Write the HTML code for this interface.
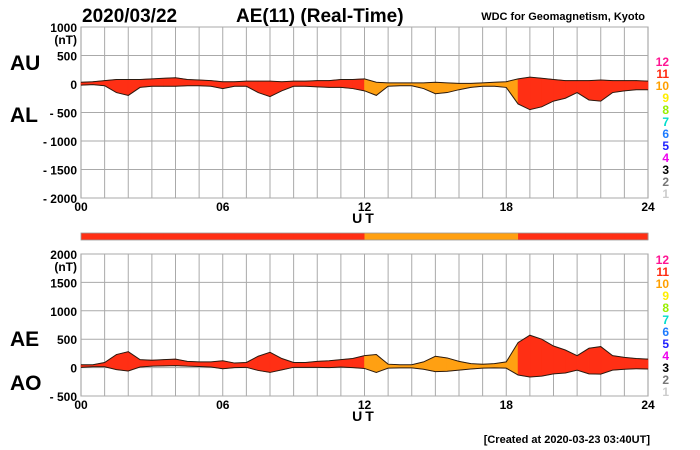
<!DOCTYPE html>
<html><head><meta charset="utf-8"><style>
body{margin:0;background:#fff;}
svg{display:block;font-family:"Liberation Sans",Arial,sans-serif;}
</style></head><body>
<svg id="chart" width="700" height="450" viewBox="0 0 700 450">
<text x="82" y="22" font-size="19" font-weight="bold">2020/03/22</text>
<text x="236" y="22" font-size="19" font-weight="bold">AE(11) (Real-Time)</text>
<text x="645" y="20" font-size="11" font-weight="bold" text-anchor="end">WDC for Geomagnetism, Kyoto</text>
<text x="650" y="443" font-size="11" font-weight="bold" text-anchor="end">[Created at 2020-03-23 03:40UT]</text>
<g id="topPanel"></g><g id="botPanel"></g>
</svg>
<script>
const hours=[0,0.5,1,1.5,2,2.5,3,3.5,4,4.5,5,5.5,6,6.5,7,7.5,8,8.5,9,9.5,10,10.5,11,11.5,12,12.5,13,13.5,14,14.5,15,15.5,16,16.5,17,17.5,18,18.5,19,19.5,20,20.5,21,21.5,22,22.5,23,23.5,24];
const auValues=[30,40,60,80,80,80,90,100,110,80,70,60,40,40,50,50,50,40,50,50,60,60,80,80,90,30,20,20,20,20,30,20,10,10,20,30,40,90,120,100,80,60,60,60,70,60,60,60,50];
const alValues=[-20,-10,-30,-150,-200,-60,-40,-40,-40,-30,-30,-40,-80,-40,-40,-150,-220,-120,-40,-40,-50,-60,-60,-80,-120,-200,-40,-30,-30,-80,-170,-150,-100,-60,-40,-40,-60,-350,-450,-400,-300,-250,-150,-280,-300,-150,-120,-100,-100];
const stationCounts=[11,11,11,11,11,11,11,11,11,11,11,11,11,11,11,11,11,11,11,11,11,11,11,11,10,10,10,10,10,10,10,10,10,10,10,10,10,11,11,11,11,11,11,11,11,11,11,11];
const xTicks=["00","06","12","18","24"];
const topYTicks=[1000,500,0,-500,-1000,-1500,-2000];
const botYTicks=[2000,1500,1000,500,0,-500];
const countLabels=["12","11","10","9","8","7","6","5","4","3","2","1"];
const countColors=["#ff1493","#ff2a10","#ffa000","#ffee00","#99ee00","#00ddcc","#1e7bff","#2020ff","#ee00ee","#000","#777","#ccc"];
const aeValues=auValues.map((u,i)=>u-alValues[i]);
const aoValues=auValues.map((u,i)=>(u+alValues[i])/2);

const NS="http://www.w3.org/2000/svg";
const X0=81,X1=648;
const xs=h=>X0+(X1-X0)*h/24;
function mk(parent,tag,attrs){const e=document.createElementNS(NS,tag);for(const k in attrs)e.setAttribute(k,attrs[k]);parent.appendChild(e);return e;}
function colFor(c){return c>=11?"#ff2f14":"#ffa012";}

function panel(g,prefix,yTop,yBot,vMax,vMin,ticks,upper,lower,labA,labB,labAy,labBy,countTop){
  const ys=v=>yTop+(vMax-v)/(vMax-vMin)*(yBot-yTop);
  const frame=mk(g,"rect",{x:X0,y:yTop,width:X1-X0,height:yBot-yTop,fill:"#fff",stroke:"#999"});
  
  
  for(let h=1;h<24;h++){const l=mk(g,"line",{x1:xs(h),x2:xs(h),y1:yTop,y2:yBot,stroke:"#aaa","stroke-width":1});
    
    }
  ticks.forEach(t=>{const y=ys(t);
    const l=mk(g,"line",{x1:X0,x2:X1,y1:y,y2:y,stroke:"#aaa","stroke-width":1});
    
    
    const tx=mk(g,"text",{x:X0-4,y:y+5,"font-size":12,"font-weight":"bold","text-anchor":"end"});
    tx.textContent=t<0?"- "+(-t):String(t);
    
    });
  const nt=mk(g,"text",{x:X0-4,y:ys(ticks[0])+17,"font-size":12,"font-weight":"bold","text-anchor":"end"});
  nt.textContent="(nT)";
  
  
  for(let i=0;i<hours.length-1;i++){
    const p=[[xs(hours[i]),ys(upper[i])],[xs(hours[i+1]),ys(upper[i+1])],[xs(hours[i+1]),ys(lower[i+1])],[xs(hours[i]),ys(lower[i])]];
    const s=mk(g,"polygon",{points:p.map(q=>q.join(",")).join(" "),fill:colFor(stationCounts[i]),stroke:colFor(stationCounts[i]),"stroke-width":0.6});
    
    
  }
  [upper,lower].forEach((arr,k)=>{
    const pl=mk(g,"polyline",{points:arr.map((v,i)=>xs(hours[i])+","+ys(v)).join(" "),fill:"none",stroke:"#2a1a10","stroke-width":1});
    
    
  });
  xTicks.forEach((t,i)=>{const tx=mk(g,"text",{x:xs(i*6),y:yBot+13,"font-size":12,"font-weight":"bold","text-anchor":"middle"});
    tx.textContent=t;
    
    });
  const ut=mk(g,"text",{x:(X0+X1)/2,y:yBot+25,"font-size":14,"font-weight":"bold","text-anchor":"middle","letter-spacing":"3"});
  ut.textContent="UT";
  
  
  [[labA,labAy],[labB,labBy]].forEach(([s,y])=>{const tx=mk(g,"text",{x:10,y:y,"font-size":21,"font-weight":"bold"});
    tx.textContent=s;
    
    });
  countLabels.forEach((s,i)=>{const tx=mk(g,"text",{x:669,y:countTop+i*12,"font-size":12,"font-weight":"bold","text-anchor":"end",fill:countColors[i]});
    tx.textContent=s;
    
    });
}
const topG=document.getElementById("topPanel"),botG=document.getElementById("botPanel");
panel(topG,"top",27,198,1000,-2000,topYTicks,auValues,alValues,"AU","AL",70,122,66);
panel(botG,"bottom",254,396,2000,-500,botYTicks,aeValues,aoValues,"AE","AO",346,390,264);
for(let i=0;i<hours.length-1;i++){
  const r=mk(botG,"rect",{x:xs(hours[i]),y:233,width:xs(hours[i+1])-xs(hours[i])+0.5,height:7,fill:colFor(stationCounts[i])});
  
  
}
const sb=mk(botG,"rect",{x:X0,y:233,width:X1-X0,height:7,fill:"none",stroke:"#999","stroke-width":0.8});


</script>
</body></html>
